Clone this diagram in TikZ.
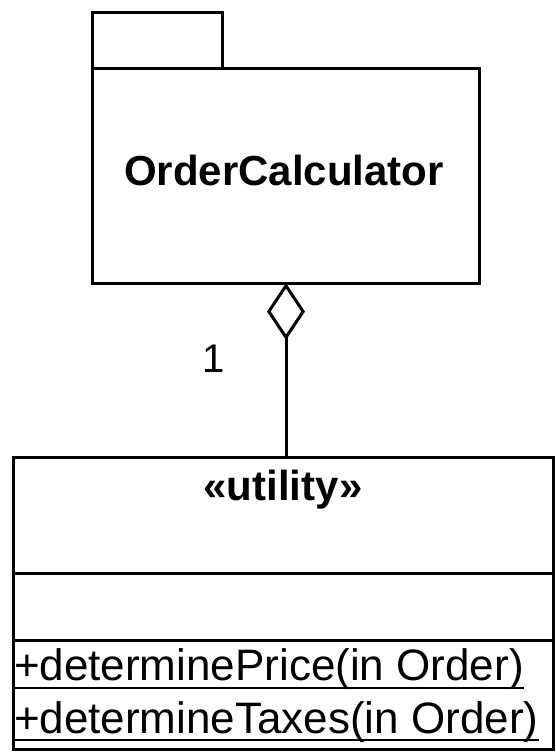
\documentclass[tikz,border=0pt]{standalone}
\usepackage{fontspec}
\setmainfont{Liberation Sans}
\usetikzlibrary{arrows.meta}
\begin{document}
\begin{tikzpicture}[x=1pt,y=-1pt,
  box/.style={draw=black,line width=3pt,inner sep=0pt,outer sep=0pt,fill=white},
  sep/.style={draw=black,line width=3pt},
  lbl/.style={inner sep=0pt,outer sep=0pt,anchor=base,text=black},
  boldtxt/.style={lbl,font=\fontsize{42}{50}\selectfont\bfseries},
  optxt/.style={lbl,anchor=base west,font=\fontsize{44}{52}\selectfont},
  multxt/.style={lbl,font=\fontsize{40}{48}\selectfont},
  uline/.style={draw=black,line width=2pt},
  aggr/.style={draw=black,line width=3pt,-{Diamond[open,length=57pt,width=38pt,line width=3pt]}}]
\useasboundingbox (0,0) rectangle (555,753);
% package
\node[box,minimum width=130pt,minimum height=56pt] (tab) at (157,40) {};
\node[box,minimum width=387pt,minimum height=215pt] (pkg) at (285.5,175.5) {};
\node[boldtxt] (pkgname) at (284,185) {OrderCalculator};
% class
\node[box,minimum width=540pt,minimum height=292pt] (cls) at (283,603) {};
\draw[sep] (cls.west |- 0,573) -- (cls.east |- 0,573);
\draw[sep] (cls.west |- 0,640) -- (cls.east |- 0,640);
\node[boldtxt] (stereo) at (283,500) {«utility»};
\node[optxt] (op1) at (14,680) {+determinePrice(in Order)};
\node[optxt] (op2) at (14,733) {+determineTaxes(in Order)};
\draw[uline] ([yshift=-8pt]op1.base west) -- ([yshift=-8pt]op1.base east);
\draw[uline] ([yshift=-7pt]op2.base west) -- ([yshift=-7pt]op2.base east);
% aggregation
\coordinate (agg) at (286,283);
\draw[aggr] (cls.north -| agg) -- (agg);
\node[multxt] (mult) at (214,372) {1};
\end{tikzpicture}
\end{document}
